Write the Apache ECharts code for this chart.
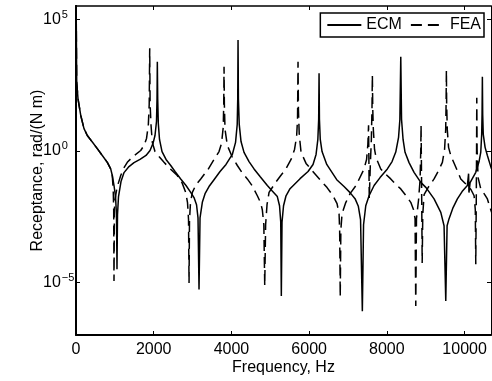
<!DOCTYPE html>
<html>
<head>
<meta charset="utf-8">
<script src="https://cdn.jsdelivr.net/npm/echarts@6/dist/echarts.min.js"></script>
<style>
  html, body { margin: 0; padding: 0; background: #fff; }
  #chart { width: 492px; height: 381px; }
</style>
</head>
<body>
<div id="chart"></div>
<script>
// receptance: frequency in Hz, value as log10(rad/(N m))
const ecmHz = [0, 10, 18, 51, 121, 206, 291, 420, 548, 677, 806, 893, 934, 978, 1017, 1042, 1055, 1068, 1094, 1158, 1236, 1364, 1493, 1647, 1802, 1905, 1982, 2033, 2072, 2085, 2093, 2103, 2118, 2149, 2214, 2317, 2438, 2548, 2695, 2831, 2952, 3037, 3102, 3140, 3166, 3192, 3251, 3321, 3423, 3552, 3707, 3861, 4023, 4106, 4149, 4162, 4170, 4180, 4201, 4247, 4324, 4453, 4582, 4736, 4924, 5045, 5181, 5238, 5269, 5284, 5302, 5341, 5405, 5508, 5766, 5972, 6100, 6178, 6224, 6245, 6255, 6265, 6286, 6332, 6453, 6710, 6898, 7053, 7181, 7266, 7323, 7369, 7400, 7457, 7542, 7671, 7825, 8013, 8134, 8229, 8301, 8335, 8358, 8378, 8417, 8468, 8571, 8700, 8873, 9009, 9215, 9388, 9472, 9516, 9550, 9601, 9704, 9815, 9936, 10072, 10103, 10113, 10142, 10288, 10373, 10417, 10440, 10450, 10458, 10466, 10481, 10528, 10587, 10682, 10700];
const ecmLog = [6.5, 4.25, 2.62, 1.98, 1.35, 0.84, 0.58, 0.33, 0.08, -0.18, -0.44, -0.69, -0.94, -1.32, -1.74, -2.43, -4.50, -2.43, -1.74, -1.17, -0.83, -0.60, -0.45, -0.33, -0.18, 0.01, 0.28, 0.58, 1.12, 1.96, 3.38, 1.96, 1.04, 0.43, -0.03, -0.33, -0.56, -0.79, -1.07, -1.32, -1.58, -1.78, -2.05, -2.55, -5.27, -2.55, -1.96, -1.63, -1.36, -1.10, -0.79, -0.52, -0.14, 0.32, 1.00, 1.96, 4.21, 1.96, 1.00, 0.35, -0.06, -0.41, -0.69, -0.98, -1.32, -1.52, -1.74, -2.09, -2.70, -5.52, -2.70, -2.09, -1.71, -1.44, -1.06, -0.79, -0.52, -0.14, 0.43, 1.19, 2.94, 1.19, 0.43, -0.03, -0.52, -1.10, -1.36, -1.59, -1.82, -2.11, -2.62, -6.10, -2.81, -2.09, -1.71, -1.32, -1.02, -0.69, -0.41, -0.05, 0.51, 1.19, 3.57, 1.19, 0.43, -0.06, -0.45, -0.82, -1.20, -1.40, -1.83, -2.34, -2.85, -5.71, -2.85, -2.58, -2.16, -1.83, -1.55, -1.32, -0.87, -1.59, -1.21, -0.82, -0.41, -0.05, 0.62, 1.39, 2.81, 1.39, 0.62, 0.13, -0.18, -0.64, -0.70];

const feaHz = [0, 10, 18, 51, 121, 206, 291, 420, 548, 677, 806, 893, 934, 958, 970, 978, 988, 1004, 1055, 1151, 1236, 1320, 1467, 1665, 1750, 1815, 1861, 1884, 1897, 1907, 1931, 1964, 2033, 2136, 2265, 2420, 2607, 2728, 2824, 2870, 2896, 2909, 2921, 2947, 2994, 3089, 3210, 3398, 3552, 3681, 3745, 3789, 3802, 3810, 3818, 3835, 3895, 4015, 4152, 4273, 4409, 4530, 4667, 4749, 4795, 4834, 4857, 4880, 4916, 4968, 5140, 5251, 5405, 5534, 5624, 5678, 5701, 5714, 5724, 5745, 5792, 5920, 6075, 6281, 6461, 6615, 6718, 6770, 6785, 6800, 6816, 6847, 6942, 7053, 7207, 7413, 7478, 7511, 7529, 7547, 7575, 7601, 7617, 7627, 7637, 7652, 7683, 7722, 7843, 7954, 8100, 8211, 8358, 8494, 8615, 8687, 8726, 8744, 8762, 8816, 8855, 8873, 8880, 8893, 8909, 8924, 8958, 9060, 9215, 9331, 9429, 9485, 9514, 9524, 9532, 9539, 9555, 9588, 9645, 9756, 9902, 10072, 10167, 10245, 10276, 10288, 10301, 10309, 10314, 10322, 10348, 10417, 10502, 10587, 10682, 10700];
const feaLog = [6.5, 4.25, 2.62, 1.98, 1.35, 0.84, 0.58, 0.33, 0.08, -0.18, -0.44, -0.69, -0.94, -1.48, -2.24, -4.95, -2.24, -1.86, -1.40, -0.94, -0.64, -0.44, -0.22, 0.01, 0.20, 0.47, 0.97, 1.77, 3.89, 1.77, 0.97, 0.32, -0.03, -0.22, -0.44, -0.68, -0.94, -1.21, -1.58, -1.97, -2.62, -5.02, -2.62, -1.97, -1.58, -1.29, -1.07, -0.71, -0.33, -0.03, 0.28, 0.89, 1.77, 3.19, 1.77, 0.81, 0.20, -0.22, -0.56, -0.83, -1.07, -1.32, -1.71, -1.97, -2.24, -2.81, -5.14, -2.81, -2.05, -1.58, -1.20, -0.98, -0.68, -0.33, 0.05, 0.55, 1.19, 3.38, 1.58, 0.62, -0.06, -0.48, -0.75, -1.10, -1.40, -1.71, -2.01, -2.39, -3.00, -5.56, -3.00, -2.39, -1.97, -1.63, -1.32, -0.69, -0.33, 0.24, 0.97, -1.82, -0.52, 0.43, 1.58, 2.87, 1.58, 0.81, 0.05, -0.26, -0.69, -0.87, -1.07, -1.25, -1.45, -1.71, -1.96, -2.24, -2.58, -5.90, -2.58, -1.86, -1.10, 0.05, 0.97, -1.10, -4.26, -2.43, -1.67, -1.40, -1.07, -0.75, -0.44, 0.05, 0.81, 1.77, 3.06, 1.77, 0.81, 0.13, -0.18, -0.56, -1.07, -1.32, -1.48, -1.71, -2.24, -4.31, -1.86, 0.05, 2.01, 0.05, -1.02, -1.45, -1.63, -1.83, -2.28, -2.35];

const xTicks = [0, 2000, 4000, 6000, 8000, 10000];
const yTicks = [-5, 0, 5]; // powers of ten

const FONT = '"Liberation Sans", Arial, Helvetica, sans-serif';

function pairs(xs, ys) {
  const out = [];
  for (let i = 0; i < Math.min(xs.length, ys.length); i++) out.push([xs[i], ys[i]]);
  return out;
}

const chart = echarts.init(document.getElementById('chart'), null, {renderer: 'canvas'});

const boxTick = {show: true, inside: true, length: 4, lineStyle: {color: '#000', width: 1}};

chart.setOption({
  animation: false,
  backgroundColor: '#fff',
  textStyle: {fontFamily: FONT, color: '#000'},
  grid: {left: 76, right: 1, top: 6, bottom: 46, containLabel: false, outerBoundsMode: 'none'},
  legend: {
    right: 8,
    top: 13,
    orient: 'horizontal',
    backgroundColor: '#fff',
    borderColor: '#000',
    borderWidth: 1.5,
    borderRadius: 0,
    padding: [4, 3, 4, 6],
    itemWidth: 34,
    itemHeight: 14,
    itemGap: 8,
    itemStyle: {color: 'rgba(0,0,0,0)', borderColor: 'rgba(0,0,0,0)', borderWidth: 0},
    textStyle: {fontFamily: FONT, fontSize: 16, color: '#000'},
    data: ['ECM', 'FEA']
  },
  xAxis: [
    {
      type: 'value',
      min: 0,
      max: 10680,
      name: 'Frequency, Hz',
      nameLocation: 'middle',
      nameGap: 25,
      nameMoveOverlap: false,
      nameTextStyle: {fontFamily: FONT, fontSize: 16, color: '#000'},
      axisLine: {show: true, onZero: false, lineStyle: {color: '#000', width: 2}},
      axisTick: Object.assign({}, boxTick, {customValues: xTicks}),
      axisLabel: {
        show: true, customValues: xTicks, margin: 7,
        fontFamily: FONT, fontSize: 16, color: '#000',
        formatter: v => String(v)
      },
      splitLine: {show: false}
    },
    {
      type: 'value', position: 'top', min: 0, max: 10680,
      axisLine: {show: true, onZero: false, lineStyle: {color: '#000', width: 1.5}},
      axisTick: Object.assign({}, boxTick, {customValues: xTicks}),
      axisLabel: {show: false},
      splitLine: {show: false}
    }
  ],
  yAxis: [
    {
      type: 'value',
      min: -7,
      max: 5.5,
      name: 'Receptance, rad/(N m)',
      nameLocation: 'middle',
      nameGap: 30,
      nameMoveOverlap: false,
      nameTextStyle: {fontFamily: FONT, fontSize: 16, color: '#000'},
      axisLine: {show: true, onZero: false, lineStyle: {color: '#000', width: 2}},
      axisTick: Object.assign({}, boxTick, {customValues: yTicks}),
      axisLabel: {
        show: true, customValues: yTicks, margin: 33, align: 'left',
        formatter: v => '{b|10}{s|' + (v < 0 ? '\u2212' + (-v) : v) + '}',
        rich: {
          b: {fontFamily: FONT, fontSize: 16, color: '#000'},
          s: {fontFamily: FONT, fontSize: 11, color: '#000', padding: [0, 0, 9, 1]}
        }
      },
      splitLine: {show: false}
    },
    {
      type: 'value', position: 'right', min: -7, max: 5.5,
      axisLine: {show: true, onZero: false, lineStyle: {color: '#000', width: 1}},
      axisTick: Object.assign({}, boxTick, {customValues: yTicks}),
      axisLabel: {show: false},
      splitLine: {show: false}
    }
  ],
  series: [
    {
      name: 'ECM',
      type: 'line',
      data: pairs(ecmHz, ecmLog),
      symbol: 'none',
      showSymbol: false,
      clip: true,
      lineStyle: {color: '#000', width: 1.5, type: 'solid'},
      itemStyle: {color: '#000'}
    },
    {
      name: 'FEA',
      type: 'line',
      data: pairs(feaHz, feaLog),
      symbol: 'none',
      showSymbol: false,
      clip: true,
      lineStyle: {color: '#000', width: 1.5, type: [11, 6]},
      itemStyle: {color: '#000'}
    }
  ]
});
</script>
</body>
</html>
